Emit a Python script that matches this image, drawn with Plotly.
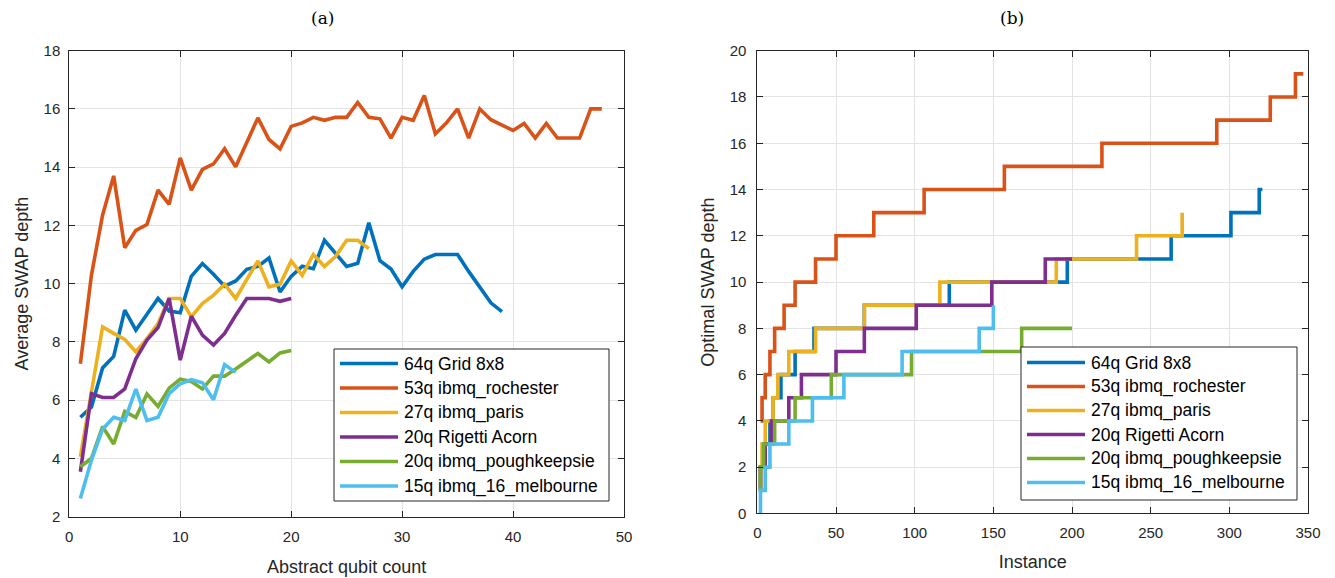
import plotly.graph_objects as go

# ---------------- Panel (a): average SWAP depth vs abstract qubit count
names = ["64q Grid 8x8", "53q ibmq_rochester", "27q ibmq_paris",
         "20q Rigetti Acorn", "20q ibmq_poughkeepsie", "15q ibmq_16_melbourne"]
colors = ["#0072BD", "#D95319", "#EDB120", "#7E2F8E", "#77AC30", "#4DBEEE"]

avg_64q = [5.41, 5.76, 7.1, 7.5, 9.09, 8.4, 8.95, 9.49, 9.06, 9.0, 10.25, 10.69, 10.32,
           9.91, 10.09, 10.49, 10.59, 10.88, 9.71, 10.25, 10.6, 10.51, 11.49, 11.04,
           10.59, 10.7, 12.09, 10.79, 10.5, 9.89, 10.42, 10.84, 11.0, 11.0, 11.0, 10.42,
           9.88, 9.34, 9.04]
avg_53q = [7.25, 10.3, 12.35, 13.7, 11.23, 11.83, 12.03, 13.21, 12.72, 14.32, 13.21,
           13.92, 14.11, 14.63, 14.01, 14.85, 15.69, 14.95, 14.63, 15.4, 15.52, 15.71,
           15.61, 15.71, 15.71, 16.22, 15.71, 15.66, 15.0, 15.71, 15.61, 16.46, 15.14,
           15.52, 16.0, 15.0, 16.0, 15.63, 15.46, 15.26, 15.5, 15.0, 15.5, 15.0, 15.0,
           15.0, 16.0, 16.0]
avg_27q = [4.05, 6.3, 8.51, 8.29, 8.08, 7.66, 8.11, 8.63, 9.49, 9.49, 8.86, 9.31, 9.6,
           9.98, 9.49, 10.14, 10.78, 9.89, 9.98, 10.78, 10.28, 11.0, 10.59, 10.93, 11.49,
           11.49, 11.2]
avg_20q_rig = [3.54, 6.22, 6.09, 6.09, 6.38, 7.42, 8.06, 8.49, 9.49, 7.37, 8.88, 8.23,
               7.89, 8.29, 8.91, 9.49, 9.49, 9.49, 9.39, 9.49]
avg_20q_pk = [3.71, 4.0, 5.09, 4.49, 5.61, 5.4, 6.21, 5.78, 6.41, 6.72, 6.64, 6.38, 6.82,
              6.82, 7.07, 7.33, 7.6, 7.31, 7.62, 7.7]
avg_15q = [2.62, 3.94, 5.0, 5.41, 5.3, 6.38, 5.3, 5.41, 6.22, 6.56, 6.7, 6.59, 6.01,
           7.22, 6.95]
avg_series = [avg_64q, avg_53q, avg_27q, avg_20q_rig, avg_20q_pk, avg_15q]

# ---------------- Panel (b): sorted optimal SWAP depth per instance (step data)
# instance at which each depth level starts, the levels, and the last instance
step_start_64q = [1, 2, 4, 8, 10, 15, 24, 36, 68, 122, 197, 263, 301, 319]
step_level_64q = [1, 2, 3, 4, 5, 6, 7, 8, 9, 10, 11, 12, 13, 14]
last_64q = 321
step_start_53q = [2, 3, 5, 8, 11, 17, 24, 37, 50, 74, 106, 157, 219, 292, 326, 342]
step_level_53q = [4, 5, 6, 7, 8, 9, 10, 11, 12, 13, 14, 15, 16, 17, 18, 19]
last_53q = 347
step_start_27q = [1, 2, 3, 5, 10, 13, 20, 37, 68, 116, 190, 241, 270]
step_level_27q = [1, 2, 3, 4, 5, 6, 7, 8, 9, 10, 11, 12, 13]
last_27q = 270
step_start_20q_rig = [1, 2, 5, 9, 20, 28, 50, 68, 101, 149, 183]
step_level_20q_rig = [1, 2, 3, 4, 5, 6, 7, 8, 9, 10, 11]
last_20q_rig = 200
step_start_20q_pk = [1, 2, 4, 11, 24, 47, 98, 168]
step_level_20q_pk = [1, 2, 3, 4, 5, 6, 7, 8]
last_20q_pk = 200
step_start_15q = [1, 2, 5, 8, 20, 35, 55, 92, 141, 150]
step_level_15q = [0, 1, 2, 3, 4, 5, 6, 7, 8, 9]
last_15q = 150

step_series = [
    (step_start_64q, step_level_64q, last_64q),
    (step_start_53q, step_level_53q, last_53q),
    (step_start_27q, step_level_27q, last_27q),
    (step_start_20q_rig, step_level_20q_rig, last_20q_rig),
    (step_start_20q_pk, step_level_20q_pk, last_20q_pk),
    (step_start_15q, step_level_15q, last_15q),
]

W, H = 1335, 578
FONT = "Liberation Sans, Arial, Helvetica, sans-serif"
LW = 3.6

fig = go.Figure()
for name, col, ys in zip(names, colors, avg_series):
    fig.add_trace(go.Scatter(x=list(range(1, len(ys) + 1)), y=ys, mode="lines",
                             name=name, line=dict(color=col, width=LW),
                             xaxis="x", yaxis="y", showlegend=False))
for name, col, (xs, ys, last) in zip(names, colors, step_series):
    fig.add_trace(go.Scatter(x=xs + [last], y=ys + [ys[-1]], mode="lines",
                             name=name, line=dict(color=col, width=LW, shape="hv"),
                             xaxis="x2", yaxis="y2", showlegend=False))

axis_common = dict(showline=True, linecolor="#262626", linewidth=1, mirror="allticks",
                   ticks="inside", ticklen=6, tickcolor="#262626", showgrid=True,
                   gridcolor="#e3e3e3", gridwidth=1, zeroline=False, automargin=False,
                   tickfont=dict(family=FONT, size=15, color="#262626"),
                   title_font=dict(family=FONT, size=18, color="#262626"))

# ---- MATLAB-style legend boxes (box, line sample, label), placed in pixels
def px_x(v):
    return v / W


def px_y(v):
    return 1 - v / H


shapes = []
annotations = []
legend_boxes = [  # left, top, right, bottom (px), first row centre, row step
    (334, 349, 609, 501, 363.5, 24.5),
    (1021, 347, 1297, 500, 362.5, 24.0),
]
for (l, t, r, b, r0, step) in legend_boxes:
    shapes.append(dict(type="rect", xref="paper", yref="paper",
                       x0=px_x(l), x1=px_x(r), y0=px_y(b), y1=px_y(t),
                       line=dict(color="#262626", width=1), fillcolor="white",
                       layer="above"))
    for i, (name, col) in enumerate(zip(names, colors)):
        yc = r0 + i * step
        shapes.append(dict(type="line", xref="paper", yref="paper",
                           x0=px_x(l + 6), x1=px_x(l + 64), y0=px_y(yc), y1=px_y(yc),
                           line=dict(color=col, width=LW), layer="above"))
        annotations.append(dict(text=name, x=px_x(l + 68), y=px_y(yc), xref="paper",
                                yref="paper", xanchor="left", yanchor="middle",
                                showarrow=False,
                                font=dict(family=FONT, size=17.5, color="black")))

annotations += [
    dict(text="(a)", x=0.2412, y=px_y(18), xref="paper", yref="paper",
         xanchor="center", yanchor="middle", showarrow=False,
         font=dict(family="DejaVu Serif, Liberation Serif, serif", size=17, color="black")),
    dict(text="(b)", x=0.7577, y=px_y(18), xref="paper", yref="paper",
         xanchor="center", yanchor="middle", showarrow=False,
         font=dict(family="DejaVu Serif, Liberation Serif, serif", size=17, color="black")),
]

fig.update_layout(
    width=W, height=H, margin=dict(l=0, r=0, t=0, b=0),
    paper_bgcolor="white", plot_bgcolor="white", showlegend=False,
    xaxis=dict(domain=[0.0519, 0.4674], range=[0, 50], dtick=10, anchor="y",
               ticklabelstandoff=6, title_text="Abstract qubit count",
               title_standoff=16, **axis_common),
    yaxis=dict(domain=[0.1064, 0.9123], range=[2, 18], dtick=2, anchor="x",
               ticklabelstandoff=5, title_text="Average SWAP depth",
               title_standoff=10, **axis_common),
    xaxis2=dict(domain=[0.5673, 0.9798], range=[0, 350], dtick=50, anchor="y2",
                ticklabelstandoff=6, title_text="Instance",
                title_standoff=14, **axis_common),
    yaxis2=dict(domain=[0.1116, 0.9123], range=[0, 20], dtick=2, anchor="x2",
                ticklabelstandoff=7, title_text="Optimal SWAP depth",
                title_standoff=10, **axis_common),
    shapes=shapes,
    annotations=annotations,
)

fig.write_html("out.html")
